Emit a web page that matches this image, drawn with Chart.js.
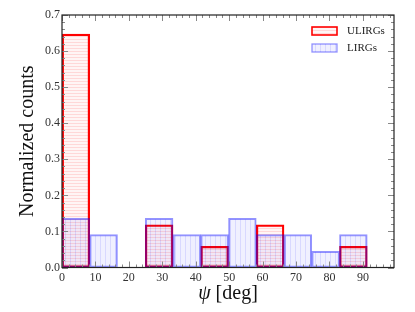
<!DOCTYPE html>
<html>
<head>
<meta charset="utf-8">
<script src="https://cdn.jsdelivr.net/npm/chart.js@4.4.1/dist/chart.umd.min.js"></script>
<style>
html, body { margin: 0; padding: 0; background: #fff; }
</style>
</head>
<body>
<canvas id="chart" width="415" height="312"></canvas>
<script>
// histogram bins (centres, deg) and normalized counts
const binCenters = [4.15, 12.45, 20.75, 29.05, 37.35, 45.65, 53.95, 62.25, 70.55, 78.85, 87.15];
const ulirgCounts = [0.647, 0, 0, 0.118, 0, 0.059, 0, 0.118, 0, 0, 0.059];
const lirgCounts = [0.136, 0.091, 0, 0.136, 0.091, 0.091, 0.136, 0.091, 0.091, 0.045, 0.091];
const seriesNames = ['ULIRGs', 'LIRGs'];

const serif = "'Liberation Serif', 'DejaVu Serif', serif";

const makeHatch = (w, h, bg, line, vertical) => {
    const c = document.createElement('canvas');
    c.width = w;
    c.height = h;
    const g = c.getContext('2d');
    g.fillStyle = bg;
    g.fillRect(0, 0, w, h);
    g.fillStyle = line;
    if (vertical) g.fillRect(0, 0, 1, h);
    else g.fillRect(0, 0, w, 1);
    return g.createPattern(c, 'repeat');
};

const ctx = document.getElementById('chart').getContext('2d');
const redHatch = makeHatch(4, 3, 'rgba(255,0,0,0.04)', 'rgba(255,0,0,0.12)', false);
const blueHatch = makeHatch(5, 4, 'rgba(0,0,255,0.06)', 'rgba(0,0,255,0.1)', true);

const styles = [
    { fill: redHatch, border: '#ff0000', width: 1.6 },
    { fill: blueHatch, border: 'rgba(0,0,255,0.42)', width: 1.3 },
];

const toPoints = (values) => values.map((v, i) => ({ x: binCenters[i], y: v }));

// frame, inward ticks, x title and legend
const decorations = {
    id: 'decorations',
    afterDraw(chart) {
        const { ctx, chartArea: a, scales: { x, y } } = chart;
        ctx.save();

        ctx.strokeStyle = '#888';
        ctx.lineWidth = 1;
        ctx.beginPath();
        for (let v = 0; v <= x.max; v += 2) {
            const px = Math.round(x.getPixelForValue(v)) + 0.5;
            const len = v % 10 === 0 ? 6 : 3;
            ctx.moveTo(px, a.bottom); ctx.lineTo(px, a.bottom - len);
            ctx.moveTo(px, a.top); ctx.lineTo(px, a.top + len);
        }
        for (let k = 0; k <= 35; k++) {
            const py = Math.round(y.getPixelForValue(k * 0.02)) + 0.5;
            const len = k % 5 === 0 ? 6 : 3;
            ctx.moveTo(a.left, py); ctx.lineTo(a.left + len, py);
            ctx.moveTo(a.right, py); ctx.lineTo(a.right - len, py);
        }
        ctx.stroke();

        ctx.strokeStyle = '#222';
        ctx.lineWidth = 1.2;
        ctx.strokeRect(a.left, a.top, a.right - a.left, a.bottom - a.top);

        // x axis title with italic psi
        ctx.fillStyle = '#111';
        ctx.textBaseline = 'middle';
        const cx = (a.left + a.right) / 2;
        ctx.font = 'italic 20px ' + serif;
        const psiW = ctx.measureText('ψ').width;
        ctx.font = '20px ' + serif;
        const restW = ctx.measureText(' [deg]').width;
        const startX = cx - (psiW + restW) / 2;
        ctx.font = 'italic 20px ' + serif;
        ctx.fillText('ψ', startX, 294);
        ctx.font = '20px ' + serif;
        ctx.fillText(' [deg]', startX + psiW, 294);

        // legend
        ctx.font = '11px ' + serif;
        seriesNames.forEach((name, i) => {
            const top = a.top + 12 + i * 17;
            const s = styles[i];
            ctx.fillStyle = s.fill;
            ctx.fillRect(312, top, 25, 8);
            ctx.strokeStyle = s.border;
            ctx.lineWidth = s.width;
            ctx.strokeRect(312, top, 25, 8);
            ctx.fillStyle = '#222';
            ctx.fillText(name, 347, top + 4);
        });

        ctx.restore();
    }
};

new Chart(ctx, {
    type: 'bar',
    data: {
        datasets: [
            {
                label: seriesNames[0],
                data: toPoints(ulirgCounts),
                backgroundColor: styles[0].fill,
                borderColor: styles[0].border,
                borderWidth: styles[0].width,
                borderSkipped: false,
                order: 1,
            },
            {
                label: seriesNames[1],
                data: toPoints(lirgCounts),
                backgroundColor: styles[1].fill,
                borderColor: styles[1].border,
                borderWidth: styles[1].width,
                borderSkipped: false,
                order: 0,
            },
        ]
    },
    options: {
        responsive: false,
        animation: false,
        grouped: false,
        barPercentage: 1,
        categoryPercentage: 1,
        layout: { padding: { top: 15, right: 21, left: 0, bottom: 0 } },
        plugins: {
            legend: { display: false },
            tooltip: { enabled: false },
        },
        scales: {
            x: {
                type: 'linear',
                offset: false,
                min: 0,
                max: 99.3,
                grid: { display: false, drawTicks: false },
                border: { display: false },
                ticks: {
                    stepSize: 10,
                    includeBounds: false,
                    padding: 3,
                    color: '#333',
                    font: { family: serif, size: 12 },
                    maxRotation: 0,
                },
                afterFit: (scale) => { scale.height = 44.5; },
            },
            y: {
                min: 0,
                max: 0.7,
                grid: { display: false, drawTicks: false },
                border: { display: false },
                ticks: {
                    stepSize: 0.1,
                    padding: 2,
                    color: '#333',
                    font: { family: serif, size: 12 },
                    callback: (v) => v.toFixed(1),
                },
                title: {
                    display: true,
                    text: 'Normalized counts',
                    color: '#111',
                    font: { family: serif, size: 20 },
                    padding: { top: 16, bottom: 0 },
                },
                afterFit: (scale) => { scale.width = 62; },
            },
        },
    },
    plugins: [decorations],
});
</script>
</body>
</html>
